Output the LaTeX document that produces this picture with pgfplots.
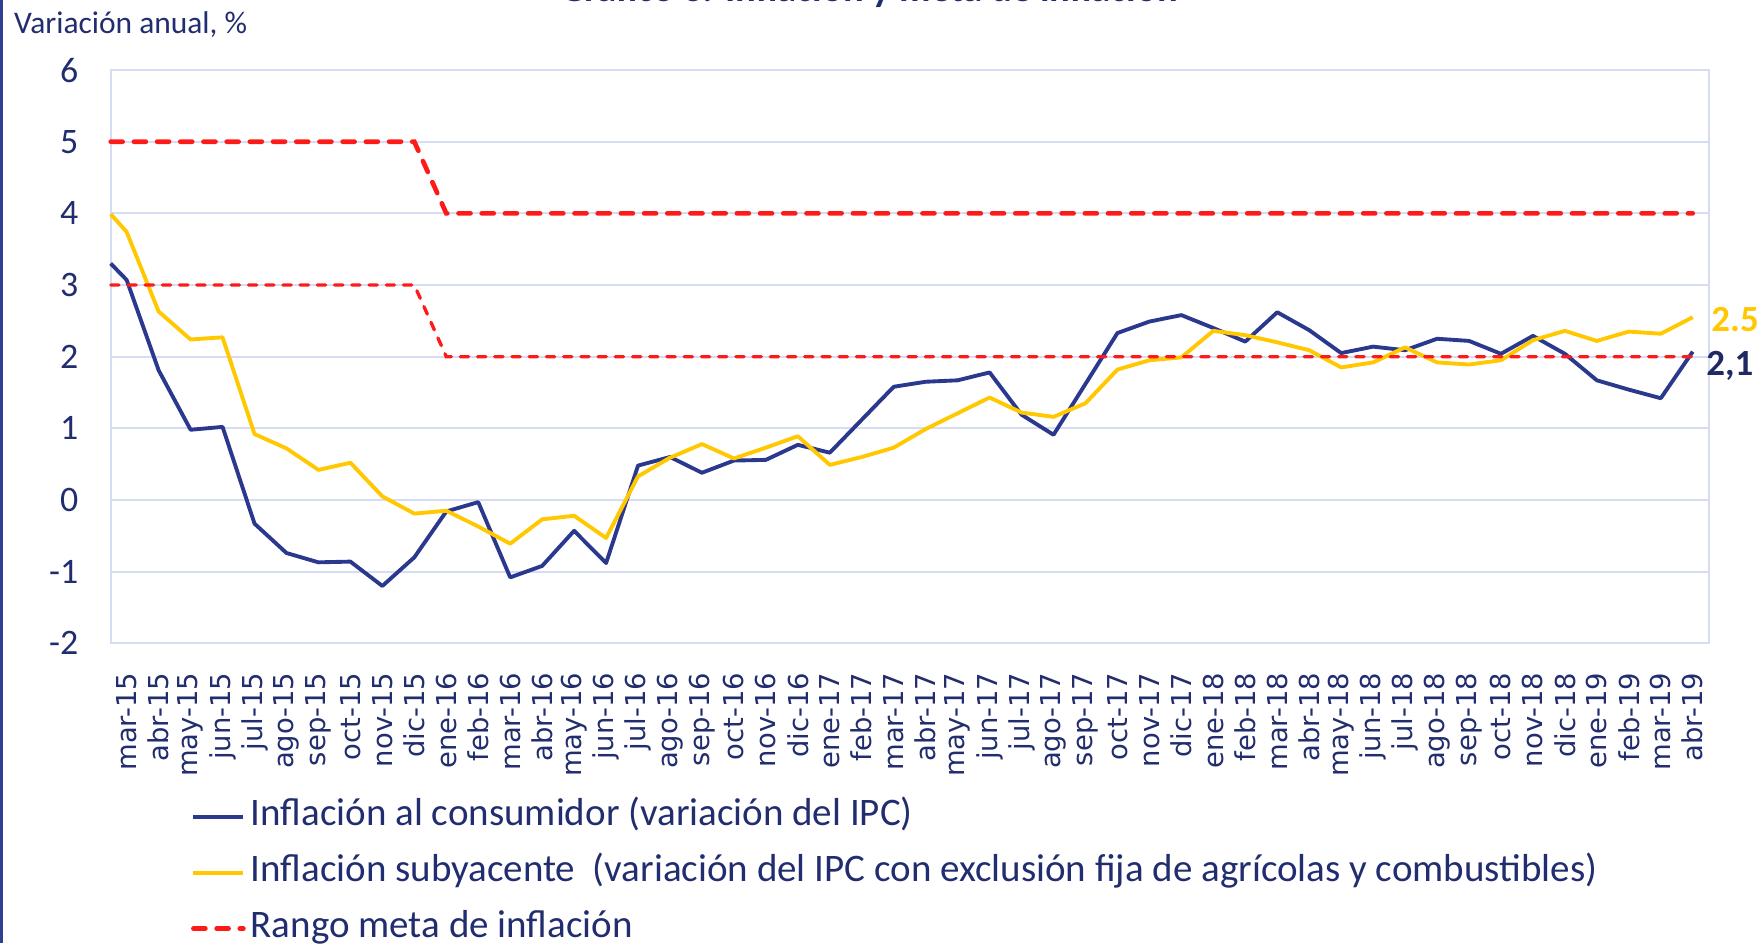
\documentclass[border=0pt]{standalone}
\usepackage{fontspec}
\setmainfont{Carlito}
\newfontfamily\dejavu{DejaVu Sans}
\usepackage{pgfplots}
\pgfplotsset{compat=1.18}
\definecolor{cpi}{RGB}{42,57,141}
\definecolor{core}{RGB}{255,200,0}
\definecolor{meta}{RGB}{255,26,26}
\definecolor{gridc}{RGB}{214,220,244}
\definecolor{txt}{RGB}{33,45,110}
\definecolor{frame}{RGB}{50,62,145}

\pgfplotstableread{
x y
-0.5 3.30
0 3.07
1 1.81
2 0.98
3 1.02
4 -0.33
5 -0.74
6 -0.87
7 -0.86
8 -1.20
9 -0.80
10 -0.16
11 -0.03
12 -1.08
13 -0.92
14 -0.43
15 -0.88
16 0.48
17 0.60
18 0.38
19 0.55
20 0.56
21 0.77
22 0.66
23 1.12
24 1.58
25 1.65
26 1.67
27 1.78
28 1.19
29 0.91
30 1.62
31 2.33
32 2.49
33 2.58
34 2.40
35 2.21
36 2.62
37 2.37
38 2.05
39 2.14
40 2.09
41 2.25
42 2.22
43 2.04
44 2.29
45 2.04
46 1.67
47 1.54
48 1.42
49 2.07
}\cpitable

\pgfplotstableread{
x y
-0.5 3.99
0 3.74
1 2.63
2 2.24
3 2.27
4 0.92
5 0.72
6 0.42
7 0.52
8 0.05
9 -0.19
10 -0.15
11 -0.37
12 -0.61
13 -0.27
14 -0.22
15 -0.53
16 0.33
17 0.59
18 0.78
19 0.58
20 0.73
21 0.89
22 0.49
23 0.60
24 0.73
25 0.99
26 1.21
27 1.43
28 1.22
29 1.16
30 1.35
31 1.82
32 1.95
33 1.99
34 2.36
35 2.30
36 2.20
37 2.09
38 1.85
39 1.92
40 2.13
41 1.92
42 1.89
43 1.95
44 2.23
45 2.36
46 2.22
47 2.35
48 2.32
49 2.55
}\coretable

\begin{document}
\begin{tikzpicture}
\begin{axis}[
  at={(11.07mm,29.97mm)}, anchor=south west,
  scale only axis, width=159.8mm, height=57.33mm,
  xmin=-0.5, xmax=49.5, ymin=-2, ymax=6,
  ytick={-2,-1,0,1,2,3,4,5,6},
  yticklabels={-2,-1,0,1,2,3,4,5,6},
  xtick={0,...,49},
  xticklabels={mar-15,abr-15,may-15,jun-15,jul-15,ago-15,sep-15,oct-15,nov-15,dic-15,
    ene-16,feb-16,mar-16,abr-16,may-16,jun-16,jul-16,ago-16,sep-16,oct-16,nov-16,dic-16,
    ene-17,feb-17,mar-17,abr-17,may-17,jun-17,jul-17,ago-17,sep-17,oct-17,nov-17,dic-17,
    ene-18,feb-18,mar-18,abr-18,may-18,jun-18,jul-18,ago-18,sep-18,oct-18,nov-18,dic-18,
    ene-19,feb-19,mar-19,abr-19},
  major tick length=0pt,
  axis line style={gridc, line width=0.6pt},
  ymajorgrids, major grid style={gridc, line width=0.6pt},
  yticklabel style={font=\fontsize{10.2}{12}\selectfont, text=txt, xshift=-2mm},
  xticklabel style={font=\dejavu\fontsize{7.8}{9}\selectfont, text=txt, yshift=-1.7mm, rotate=90, anchor=east},
  clip=false,
  legend style={at={(0.0503,-0.263)}, anchor=north west, draw=none, fill=none,
    font=\fontsize{11.1}{13}\selectfont, text=txt, inner sep=0pt, outer sep=0pt,
    row sep=1.1mm, column sep=0pt,
    nodes={inner sep=0.5mm, text height=2.6mm, text depth=0.9mm}},
  legend cell align=left,
  legend image code/.code={\draw[#1] (0mm,0mm) -- (5mm,0mm);},
]
\addplot[cpi, line width=1.1pt, line join=round] table[x=x,y=y] {\cpitable};
\addlegendentry{Inflación al consumidor (variación del IPC)}
\addplot[core, line width=1.1pt, line join=round] table[x=x,y=y] {\coretable};
\addlegendentry{Inflación subyacente\ \ (variación del IPC con exclusión fija de agrícolas y combustibles)}
\addplot[meta, line width=0.95pt, line cap=round, dash pattern=on 2.35pt off 2.55pt, forget plot] coordinates {
(-0.5,3) (0,3) (1,3) (2,3) (3,3) (4,3) (5,3) (6,3) (7,3) (8,3) (9,3) (10,2) (49,2)};
\addplot[meta, line width=1.33pt, line cap=round, dash pattern=on 3.4pt off 3.2pt] coordinates {
(-0.5,5) (0,5) (1,5) (2,5) (3,5) (4,5) (5,5) (6,5) (7,5) (8,5) (9,5) (10,4) (49,4)};
\addlegendentry{Rango meta de inflación}
\node[anchor=base west, inner sep=0pt, xshift=1.8mm, text=core, font=\bfseries\fontsize{10.5}{12}\selectfont] at (axis cs:49,2.35) {2.5};
\node[anchor=base west, inner sep=0pt, xshift=1.3mm, text={rgb,255:red,31;green,42;blue,100}, font=\bfseries\fontsize{10.5}{12}\selectfont] at (axis cs:49,1.74) {2,1};
\end{axis}
\node[anchor=base west, inner sep=0pt, font=\fontsize{8.95}{10}\selectfont, text=txt] at (1.35mm,90.9mm) {Variación anual, \%};
\node[anchor=base, inner sep=0pt, font=\bfseries\fontsize{11}{13}\selectfont, text=txt] at (86.9mm,94.1mm) {Gráfico 3: Inflación y meta de inflación};
\draw[frame, line width=0.85pt] (0.15mm,0mm) -- (0.15mm,94.3mm);
\pgfresetboundingbox
\useasboundingbox (0,0) rectangle (176.1mm,94.3mm);
\end{tikzpicture}
\end{document}
